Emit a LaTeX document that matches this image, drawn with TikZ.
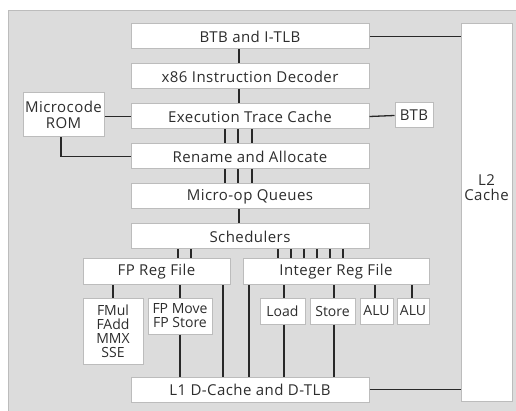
\documentclass[tikz,border=0pt]{standalone}
\usepackage{fontspec}
\setmainfont{Open Sans}
\newfontfamily\lblfont[LetterSpace=3]{Open Sans}
\usetikzlibrary{positioning}
\definecolor{bggray}{RGB}{220,220,220}
\definecolor{edgegray}{RGB}{188,188,188}
\definecolor{wiregray}{RGB}{40,40,40}
\definecolor{txtgray}{RGB}{45,45,45}

\begin{document}
\begin{tikzpicture}[
  x=1pt, y=-1pt,
  font=\lblfont\fontsize{15}{16}\selectfont,
  every node/.style={align=center, text=txtgray},
  blk/.style={draw=edgegray, fill=white, line width=1pt, inner sep=0pt,
              minimum height=25pt},
  wide/.style={blk, minimum width=238pt},
  unit/.style={blk, font=\rmfamily\fontsize{14}{14}\selectfont},
  wire/.style={draw=wiregray, line width=1.3pt},
]

%% frame and grey panel
\useasboundingbox (0,0) rectangle (516,411);
\fill[bggray] (8,11) rectangle (516,411);
\draw[edgegray, line width=1pt] (516,11) -- (8,11) -- (8,411);

%% Front end column at x=250
\node[wide] (btb) at (250,36.5) {BTB and I-TLB};
\node[wide, below=14pt of btb] (dec) {x86 Instruction Decoder};
\node[wide, below=14pt of dec] (etc) {Execution Trace Cache};
\node[wide, below=14pt of etc] (ren) {Rename and Allocate};
\node[wide, below=14pt of ren] (uop) {Micro-op Queues};
\node[wide, below=14pt of uop] (sch) {Schedulers};
\node[wide] (l1) at (250,389.5) {L1 D-Cache and D-TLB};

%% Side boxes
\node[blk, minimum width=81pt, minimum height=44pt] (ucrom) at (63.5,115)
  {Microcode\\ROM};
\node[blk, minimum width=38pt] (btbx) at (414,115.5) {BTB};
\node[blk, minimum width=51pt, minimum height=377pt] (l2) at (486.5,212.5)
  {\raisebox{50pt}{\shortstack{L2\\Cache}}};

%% Register files
\node[blk, minimum width=147pt, minimum height=26pt] (fpreg) at (156.5,272)
  {FP Reg File};
\node[blk, minimum width=186pt, minimum height=26pt] (intreg) at (336,272)
  {Integer Reg File};

%% Execution units
\node[unit, minimum width=60pt, minimum height=66pt] (fmul) at (113,331)
  {FMul\\FAdd\\MMX\\SSE};
\node[unit, minimum width=64pt, minimum height=36pt] (fpmov) at (180,316)
  {FP Move\\FP Store};
\node[unit, minimum width=45pt, minimum height=26pt] (load)  at (282.5,311) {Load};
\node[unit, minimum width=45pt, minimum height=26pt] (store) at (332.5,311) {Store};
\node[unit, minimum width=33pt, minimum height=26pt] (alua)  at (376.5,311) {ALU};
\node[unit, minimum width=32pt, minimum height=26pt] (alub)  at (413,311) {ALU};

%% Wires: front end
\draw[wire] (btb.east) -- (btb.east -| l2.west);
\draw[wire] (239,0 |- btb.south) -- (239,0 |- dec.north);
\draw[wire] (239,0 |- dec.south) -- (239,0 |- etc.north);
\foreach \x in {225,238,252} {
  \draw[wire] (\x,0 |- etc.south) -- (\x,0 |- ren.north);
  \draw[wire] (\x,0 |- ren.south) -- (\x,0 |- uop.north);
}
\draw[wire] (239,0 |- uop.south) -- (239,0 |- sch.north);
\draw[wire] (ucrom.east |- etc.west) -- (etc.west);
\draw[wire] (61,0 |- ucrom.south) |- (ren.west);
\draw[wire] (etc.east) -- (btbx.west);

%% Wires: schedulers to register files
\foreach \x in {178,191}
  \draw[wire] (\x,0 |- sch.south) -- (\x,0 |- fpreg.north);
\foreach \x in {278,291,304,317,330,343}
  \draw[wire] (\x,0 |- sch.south) -- (\x,0 |- intreg.north);

%% Wires: register files to units and L1
\draw[wire] (113,0 |- fpreg.south) -- (113,0 |- fmul.north);
\draw[wire] (180,0 |- fpreg.south) -- (180,0 |- fpmov.north);
\draw[wire] (180,0 |- fpmov.south) -- (180,0 |- l1.north);
\draw[wire] (223,0 |- fpreg.south) -- (223,0 |- l1.north);
\draw[wire] (249,0 |- intreg.south) -- (249,0 |- l1.north);
\draw[wire] (284,0 |- intreg.south) -- (284,0 |- load.north);
\draw[wire] (284,0 |- load.south) -- (284,0 |- l1.north);
\draw[wire] (334,0 |- intreg.south) -- (334,0 |- store.north);
\draw[wire] (334,0 |- store.south) -- (334,0 |- l1.north);
\draw[wire] (375,0 |- intreg.south) -- (375,0 |- alua.north);
\draw[wire] (412,0 |- intreg.south) -- (412,0 |- alub.north);
\draw[wire] (l1.east) -- (l1.east -| l2.west);

\end{tikzpicture}
\end{document}
